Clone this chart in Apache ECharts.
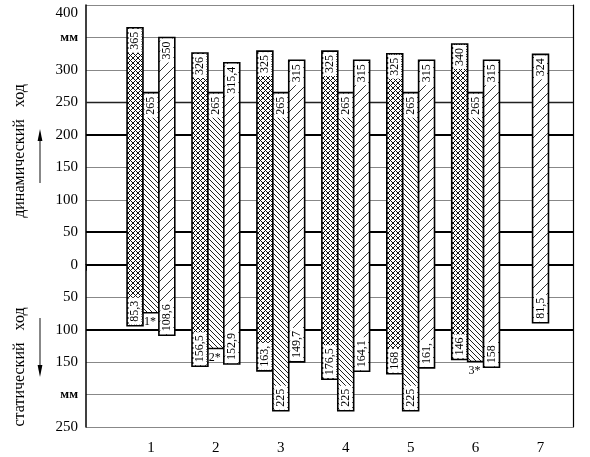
<!DOCTYPE html>
<html>
<head>
<meta charset="utf-8">
<script src="https://cdn.jsdelivr.net/npm/echarts@6/dist/echarts.min.js"></script>
<style>
  html, body { margin: 0; padding: 0; background: #fff; }
  #chart { width: 590px; height: 457px; }
</style>
</head>
<body>
<div id="chart"></div>
<script>
// группы (позиции по оси x)
const groups = [1, 2, 3, 4, 5, 6, 7]

// левый столбец (сетка) — динамический ход вверх, статический вниз
const crossTop = [365, 326, 329, 329, 325, 340]
const crossBottom = [-94, -156.5, -163.5, -176.5, -168, -146]
const crossTopLabels = ['365', '326', '325', '325', '325', '340']
const crossBottomLabels = ['85,3', '156,5', '163,', '176,5', '168', '146']

// средний столбец (частая штриховка)
const middleTop = [265, 265, 265, 265, 265, 265]
const middleBottom = [-74, -129, -225, -225, -225, -149]
const middleTopLabels = ['265', '265', '265', '265', '265', '265']
const middleBottomLabels = ['', '', '225', '225', '225', '']
const middleNotes = ['1*', '2*', '', '', '', '3*']

// правый столбец (редкая штриховка)
const rightTop = [350, 311, 315, 315, 315, 315, 324]
const rightBottom = [-108.6, -152.9, -149.7, -164.1, -159, -158, -89.5]
const rightTopLabels = ['350', '315,4', '315', '315', '315', '315', '324']
const rightBottomLabels = ['108,6', '152,9', '149,7', '164,1', '161,', '158', '81,5']

// подписи оси y
const unitTicks = [350, -200]
const thickLines = [200, 50, 0, -100]

const FONT = '"Liberation Serif", "DejaVu Serif", serif'
const barW = 0.245

// штриховка через маленький canvas
function makePattern (size, test, color) {
  const c = document.createElement('canvas')
  c.width = size
  c.height = size
  const ctx = c.getContext('2d')
  ctx.fillStyle = '#fff'
  ctx.fillRect(0, 0, size, size)
  ctx.fillStyle = color
  for (let y = 0; y < size; y++) {
    for (let x = 0; x < size; x++) {
      if (test(x, y)) ctx.fillRect(x, y, 1, 1)
    }
  }
  return { image: c, repeat: 'repeat' }
}

const crossFill = makePattern(5, (x, y) => (x + y) % 5 === 0 || (x - y + 5) % 5 === 0, '#111')
const backFill = makePattern(5, (x, y) => (x - y + 5) % 5 === 0, '#222')
const slashFill = makePattern(10, (x, y) => (x + y) % 10 === 0, '#333')

function makeRender (fill, offsetFor, topLabels, bottomLabels, notes) {
  return function (params, api) {
    const i = params.dataIndex
    const x = api.value(0) + offsetFor(i)
    const p1 = api.coord([x - barW / 2, api.value(2)])
    const p2 = api.coord([x + barW / 2, api.value(1)])
    const rect = { x: p1[0], y: p1[1], width: p2[0] - p1[0], height: p2[1] - p1[1] }
    const cx = rect.x + rect.width / 2
    const children = [
      { type: 'rect', shape: rect, style: { fill: fill } },
    ]
    if (topLabels[i]) {
      children.push({
        type: 'text', x: cx, y: rect.y + 1, rotation: Math.PI / 2,
        style: {
          text: topLabels[i], font: '12px ' + FONT, fill: '#000',
          align: 'right', verticalAlign: 'middle',
          backgroundColor: '#fff', padding: [1, 3, 0, 3],
        },
      })
    }
    if (bottomLabels[i]) {
      children.push({
        type: 'text', x: cx, y: rect.y + rect.height - 1, rotation: Math.PI / 2,
        style: {
          text: bottomLabels[i], font: '12px ' + FONT, fill: '#000',
          align: 'left', verticalAlign: 'middle',
          backgroundColor: '#fff', padding: [1, 3, 0, 3],
        },
      })
    }
    if (notes && notes[i]) {
      children.push({
        type: 'text', x: cx - 1, y: rect.y + rect.height + 3,
        style: {
          text: notes[i], font: '12px ' + FONT, fill: '#000',
          align: 'center', verticalAlign: 'top',
        },
      })
    }
    children.push({ type: 'rect', shape: rect, style: { fill: 'none', stroke: '#000', lineWidth: 1.6 } })
    return { type: 'group', children: children }
  }
}

const chart = echarts.init(document.getElementById('chart'))

chart.setOption({
  animation: false,
  backgroundColor: '#fff',
  grid: { left: 86, right: 17, top: 5, bottom: 30 },
  xAxis: {
    type: 'value',
    min: 0,
    max: 7.5,
    interval: 1,
    splitLine: { show: false },
    axisLine: { lineStyle: { color: '#000', width: 1.2 } },
    axisTick: { show: true, length: 6, lineStyle: { color: '#000' } },
    axisLabel: {
      fontFamily: FONT, fontSize: 15, color: '#000', margin: 14,
      formatter: (v) => (groups.indexOf(v) >= 0 ? String(v) : ''),
    },
  },
  yAxis: [{
    type: 'value',
    min: -250,
    max: 400,
    interval: 50,
    axisLine: { show: true, lineStyle: { color: '#000', width: 1.5 } },
    axisTick: { show: false },
    splitLine: { lineStyle: { color: '#888', width: 1 } },
    axisLabel: {
      margin: 8,
      fontFamily: FONT, fontSize: 15, color: '#000',
      formatter: (v) => (unitTicks.indexOf(v) >= 0 ? '{u|мм}' : (v === 400 ? '{t|400}' : String(Math.abs(v)))),
      rich: {
        u: { fontFamily: FONT, fontSize: 13, fontWeight: 'bold', color: '#000' },
        t: { fontFamily: FONT, fontSize: 15, color: '#000', padding: [16, 0, 0, 0] },
      },
    },
  }, {
    type: 'value',
    position: 'right',
    min: -250,
    max: 400,
    interval: 50,
    axisLine: { show: true, lineStyle: { color: '#000', width: 1.2 } },
    axisTick: { show: false },
    axisLabel: { show: false },
    splitLine: { show: false },
  }],
  graphic: [
    {
      type: 'text', x: 20, y: 151, rotation: Math.PI / 2,
      style: { text: 'динамический   ход', font: '16px ' + FONT, fill: '#000', align: 'center', verticalAlign: 'middle' },
    },
    {
      type: 'text', x: 20, y: 367, rotation: Math.PI / 2,
      style: { text: 'статический   ход', font: '16px ' + FONT, fill: '#000', align: 'center', verticalAlign: 'middle' },
    },
    { type: 'line', shape: { x1: 40, y1: 183, x2: 40, y2: 136 }, style: { stroke: '#555', lineWidth: 1.4 } },
    { type: 'polygon', shape: { points: [[40, 129], [37.6, 141], [42.4, 141]] }, style: { fill: '#000' } },
    { type: 'line', shape: { x1: 40, y1: 318, x2: 40, y2: 368 }, style: { stroke: '#555', lineWidth: 1.4 } },
    { type: 'polygon', shape: { points: [[40, 377], [37.6, 365], [42.4, 365]] }, style: { fill: '#000' } },
  ],
  series: [
    {
      type: 'line',
      data: [],
      z: 1,
      markLine: {
        z: 1,
        silent: true,
        symbol: 'none',
        label: { show: false },
        lineStyle: { color: '#000', width: 2, type: 'solid' },
        data: thickLines.map((v) => ({ yAxis: v })).concat([{ yAxis: 250, lineStyle: { width: 1.3, color: '#222' } }]),
      },
    },
    {
      type: 'custom',
      z: 3,
      renderItem: makeRender(crossFill, () => -barW, crossTopLabels, crossBottomLabels),
      data: crossTop.map((t, i) => [groups[i], crossBottom[i], t]),
    },
    {
      type: 'custom',
      z: 3,
      renderItem: makeRender(backFill, () => 0, middleTopLabels, middleBottomLabels, middleNotes),
      data: middleTop.map((t, i) => [groups[i], middleBottom[i], t]),
    },
    {
      type: 'custom',
      z: 3,
      renderItem: makeRender(slashFill, (i) => (crossTop[i] === undefined ? 0 : barW), rightTopLabels, rightBottomLabels),
      data: rightTop.map((t, i) => [groups[i], rightBottom[i], t]),
    },
  ],
})
</script>
</body>
</html>
